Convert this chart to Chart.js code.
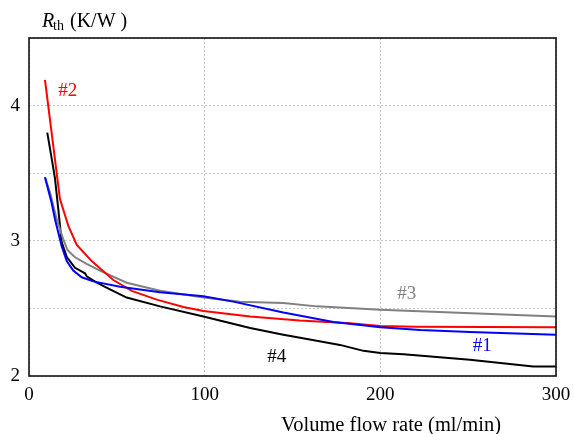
<!DOCTYPE html>
<html>
<head>
<meta charset="utf-8">
<title>Rth vs flow rate</title>
<script src="https://cdn.jsdelivr.net/npm/chart.js@4.4.1/dist/chart.umd.min.js"></script>
<style>
  html, body { margin: 0; padding: 0; background: #fff; }
  #wrap { width: 574px; height: 434px; }
</style>
</head>
<body>
<div id="wrap"><canvas id="rthChart" width="574" height="434"></canvas></div>
<script>
// ── data ──────────────────────────────────────────────────────────────────
const flow1 = [9.1, 12.9, 14.8, 18.6, 21.5, 25.2, 30, 36.6, 51.8, 74.6, 99.3, 116.3, 144.8, 173.3, 200, 222.7, 251, 300];
const rth1  = [3.47, 3.28, 3.16, 2.96, 2.85, 2.78, 2.73, 2.70, 2.66, 2.62, 2.59, 2.55, 2.47, 2.40, 2.36, 2.34, 2.325, 2.305];

const flow2 = [9.1, 17.6, 22.4, 27.2, 35.7, 48, 58.5, 72.7, 87.9, 99.3, 125.9, 154, 182.8, 199.9, 220, 300];
const rth2  = [4.19, 3.31, 3.11, 2.97, 2.85, 2.71, 2.63, 2.565, 2.51, 2.48, 2.44, 2.41, 2.39, 2.37, 2.365, 2.36];

const flow3 = [9.1, 11.9, 15.8, 19.5, 22, 26, 32.8, 40.4, 55.6, 74.6, 99.3, 120, 144.8, 163.8, 200, 300];
const rth3  = [3.47, 3.36, 3.16, 3.01, 2.93, 2.88, 2.83, 2.78, 2.69, 2.63, 2.58, 2.55, 2.54, 2.515, 2.49, 2.44];

const flow4 = [10.4, 12.9, 14.8, 16.7, 18.6, 21.5, 26.2, 31.9, 33, 38.6, 46.1, 55.6, 74.6, 99.3, 125.9, 144.8, 163.8, 177, 190.4, 200, 213.2, 251, 287, 300];
const rth4  = [3.80, 3.61, 3.46, 3.23, 2.99, 2.88, 2.80, 2.76, 2.735, 2.69, 2.64, 2.58, 2.515, 2.44, 2.355, 2.305, 2.26, 2.23, 2.186, 2.17, 2.16, 2.12, 2.07, 2.07];

const xTicks = [0, 100, 200, 300];
const yTicks = [2, 3, 4];

// curve labels: text, colour, anchor (data units)
const curveLabels = [
    { text: '#1', color: '#0000ff', x: 258, y: 2.22 },
    { text: '#2', color: '#ff0000', x: 22, y: 4.11 },
    { text: '#3', color: '#808080', x: 215, y: 2.61 },
    { text: '#4', color: '#000000', x: 141, y: 2.14 }
];

const SERIF = '"Liberation Serif", "DejaVu Serif", serif';

function pts(xs, ys) {
    return xs.map((x, i) => ({ x: x, y: ys[i] }));
}

function line(label, xs, ys, color) {
    return {
        label: label,
        data: pts(xs, ys),
        borderColor: color,
        borderWidth: 2,
        pointRadius: 0,
        tension: 0,
        fill: false
    };
}

// frame, axis titles and curve labels
const decorations = {
    id: 'decorations',
    afterDraw(chart) {
        const ctx = chart.ctx;
        const a = chart.chartArea;
        const xs = chart.scales.x, ys = chart.scales.y;
        ctx.save();
        ctx.strokeStyle = '#111';
        ctx.lineWidth = 1.6;
        ctx.strokeRect(a.left, a.top, a.right - a.left, a.bottom - a.top);

        ctx.textBaseline = 'middle';
        ctx.textAlign = 'center';
        ctx.font = '19px ' + SERIF;
        curveLabels.forEach(l => {
            ctx.fillStyle = l.color;
            ctx.fillText(l.text, xs.getPixelForValue(l.x), ys.getPixelForValue(l.y));
        });

        // y title: R_th (K/W )
        ctx.fillStyle = '#000';
        ctx.textAlign = 'left';
        ctx.textBaseline = 'alphabetic';
        ctx.font = 'italic 20px ' + SERIF;
        ctx.fillText('R', 42, 27);
        ctx.font = '14px ' + SERIF;
        ctx.fillText('th', 53, 30);
        ctx.font = '20px ' + SERIF;
        ctx.fillText('(K/W )', 70, 27);

        // x title
        ctx.textAlign = 'center';
        ctx.font = '20.5px ' + SERIF;
        ctx.fillText('Volume flow rate (ml/min)', 391, 431);
        ctx.restore();
    }
};

new Chart(document.getElementById('rthChart'), {
    type: 'line',
    data: {
        datasets: [
            line('#1', flow1, rth1, '#0000ff'),
            line('#2', flow2, rth2, '#ff0000'),
            line('#3', flow3, rth3, '#808080'),
            line('#4', flow4, rth4, '#000000')
        ]
    },
    options: {
        responsive: false,
        animation: false,
        devicePixelRatio: 1,
        layout: { padding: { top: 38, right: 18, left: 0, bottom: 0 } },
        plugins: {
            legend: { display: false },
            tooltip: { enabled: false }
        },
        scales: {
            x: {
                type: 'linear',
                min: 0,
                max: 300,
                afterFit: s => { s.height = 58; s.paddingLeft = 0; s.paddingRight = 0; },
                afterBuildTicks: s => { s.ticks = xTicks.map(v => ({ value: v })); },
                ticks: { color: '#000', padding: 8, maxRotation: 0, font: { family: SERIF, size: 19 } },
                grid: { color: '#c8c8c8', drawTicks: false, lineWidth: 1 },
                border: { display: false, dash: [2, 2] }
            },
            y: {
                min: 2,
                max: 4.5,
                afterFit: s => { s.width = 29; s.paddingTop = 0; s.paddingBottom = 0; },
                ticks: {
                    stepSize: 0.5,
                    color: '#000',
                    padding: 9,
                    font: { family: SERIF, size: 19 },
                    callback: v => yTicks.includes(v) ? String(v) : ''
                },
                grid: { color: '#c8c8c8', drawTicks: false, lineWidth: 1 },
                border: { display: false, dash: [2, 2] }
            }
        }
    },
    plugins: [decorations]
});
</script>
</body>
</html>
